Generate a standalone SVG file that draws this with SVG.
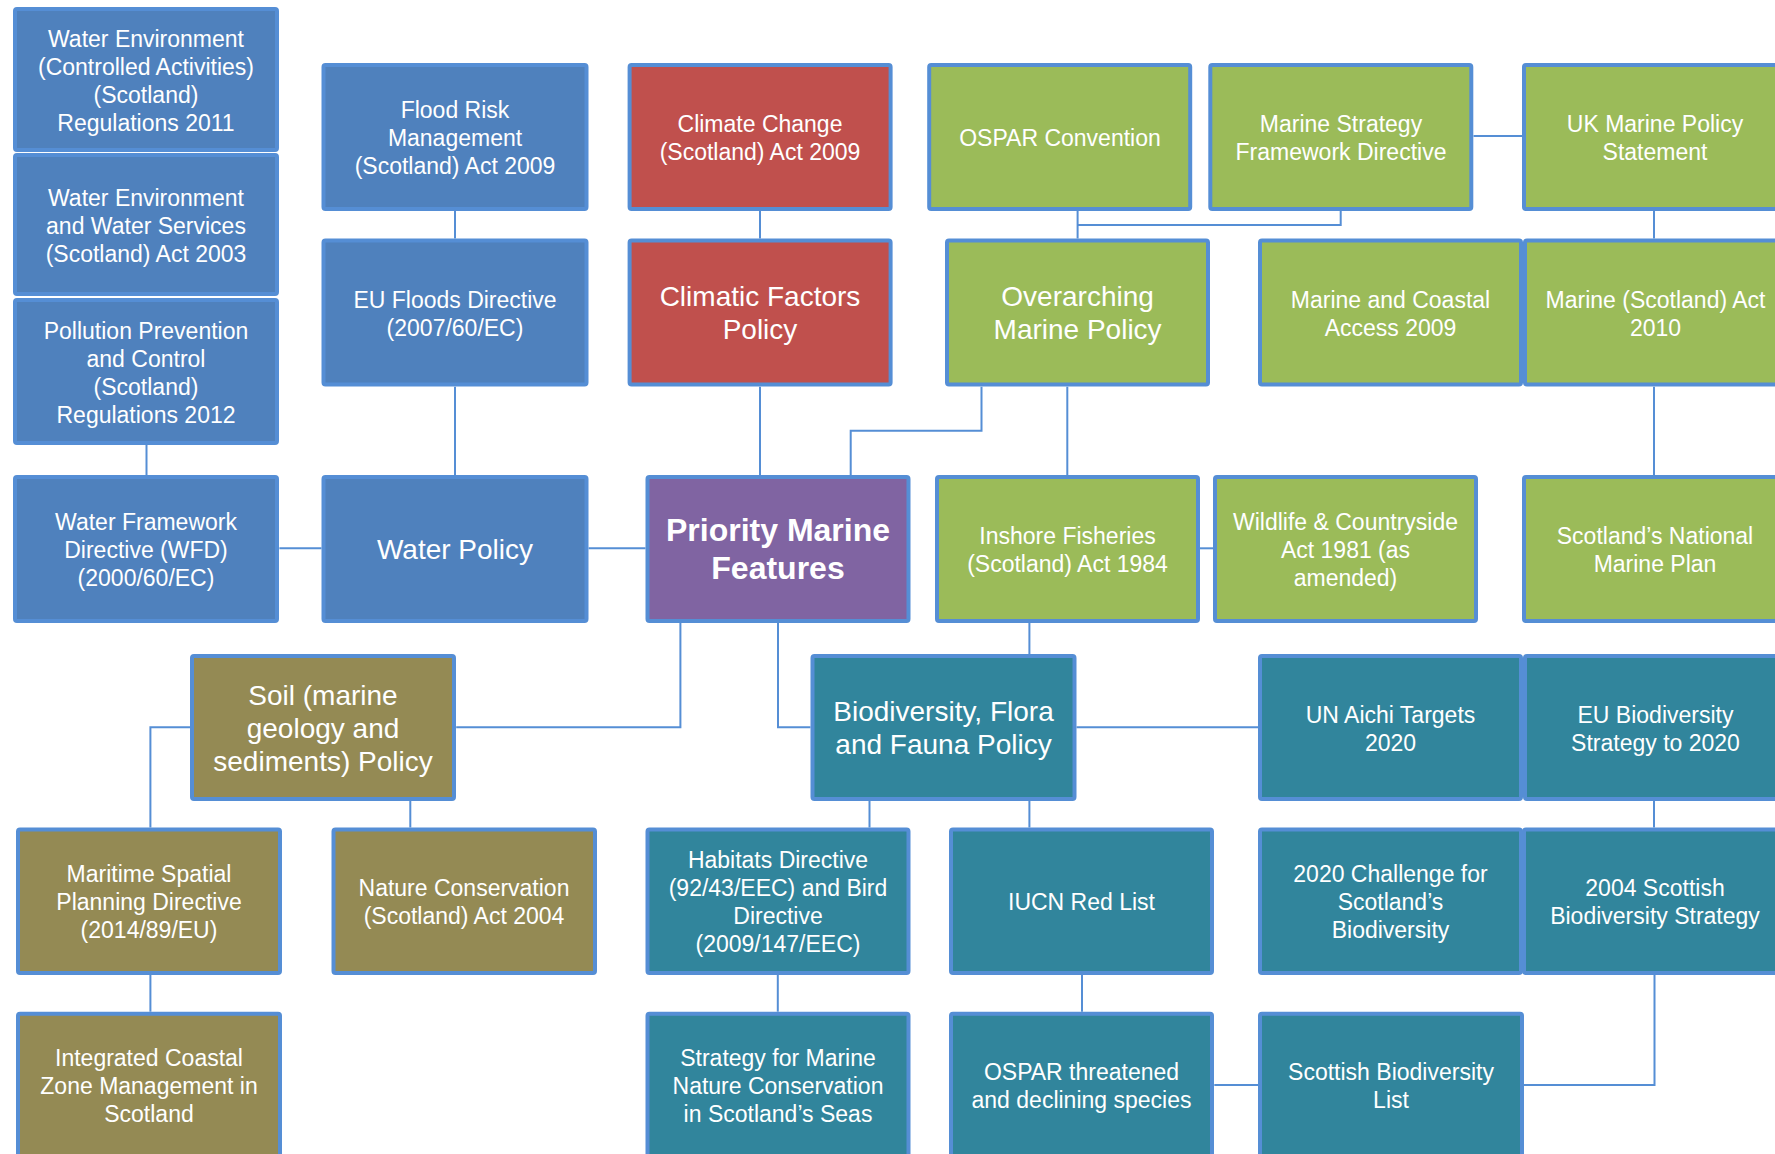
<svg xmlns="http://www.w3.org/2000/svg" width="1775" height="1154" viewBox="0 0 1775 1154">
<style>
.n rect{stroke:#558ED5;stroke-width:4}
.blue rect{fill:#4F81BD}
.red rect{fill:#C0504D}
.green rect{fill:#9BBB59}
.purple rect{fill:#8064A2}
.olive rect{fill:#948A54}
.teal rect{fill:#31859C}
.n text{font-family:"Liberation Sans",Arial,sans-serif;font-size:23px;fill:#FFFFFF;text-anchor:middle}
.n text.l{font-size:28px}
.n text.b{font-size:32px;font-weight:bold}
#connectors{fill:none;stroke:#558ED5;stroke-width:2}
</style>
<rect width="1775" height="1154" fill="#FFFFFF"/>
<g id="connectors">
<path d="M146.5,445V475"/>
<path d="M455,211V238.5"/>
<path d="M455,386.7V475"/>
<path d="M279.4,548.3H321.5"/>
<path d="M588.6,548.3H645.5"/>
<path d="M760,211V238.5"/>
<path d="M760,386.7V475"/>
<path d="M1077.6,211V238.5"/>
<path d="M1340.7,211V225H1077.6"/>
<path d="M1473.5,136H1522"/>
<path d="M1654,211V238.5"/>
<path d="M981.5,386.7V430.7H850.7V475"/>
<path d="M1067.3,386.7V475"/>
<path d="M1654,386.7V475"/>
<path d="M1200,548.3H1213.3"/>
<path d="M680.4,622.7V727.3H456.2"/>
<path d="M778,622.7V727.3H810.5"/>
<path d="M1029.4,622.7V654"/>
<path d="M1076.5,727.3H1258"/>
<path d="M190.2,727.3H150.4V827.5"/>
<path d="M410.3,800.7V827.5"/>
<path d="M869.5,800.7V827.5"/>
<path d="M1029.4,800.7V827.5"/>
<path d="M1654,800.7V827.5"/>
<path d="M150.4,975V1011.7"/>
<path d="M777.8,975V1011.7"/>
<path d="M1082,975V1011.7"/>
<path d="M1214.3,1085H1258"/>
<path d="M1524,1085H1654.5V975"/>
</g>

<g id="we-controlled" class="n blue"><rect x="15" y="9" width="262" height="141" rx="2"/>
<text x="146"><tspan x="146" y="46.5">Water Environment</tspan><tspan x="146" y="74.5">(Controlled Activities)</tspan><tspan x="146" y="102.5">(Scotland)</tspan><tspan x="146" y="130.5">Regulations 2011</tspan></text></g>
<g id="we-services" class="n blue"><rect x="15" y="155" width="262" height="139" rx="2"/>
<text x="146"><tspan x="146" y="205.5">Water Environment</tspan><tspan x="146" y="233.5">and Water Services</tspan><tspan x="146" y="261.5">(Scotland) Act 2003</tspan></text></g>
<g id="ppc" class="n blue"><rect x="15" y="300" width="262" height="143" rx="2"/>
<text x="146"><tspan x="146" y="338.5">Pollution Prevention</tspan><tspan x="146" y="366.5">and Control</tspan><tspan x="146" y="394.5">(Scotland)</tspan><tspan x="146" y="422.5">Regulations 2012</tspan></text></g>
<g id="flood-risk" class="n blue"><rect x="323.5" y="65" width="263" height="144" rx="2"/>
<text x="455"><tspan x="455" y="118">Flood Risk</tspan><tspan x="455" y="146">Management</tspan><tspan x="455" y="174">(Scotland) Act 2009</tspan></text></g>
<g id="eu-floods" class="n blue"><rect x="323.5" y="240.5" width="263" height="144" rx="2"/>
<text x="455"><tspan x="455" y="307.5">EU Floods Directive</tspan><tspan x="455" y="335.5">(2007/60/EC)</tspan></text></g>
<g id="climate-change" class="n red"><rect x="629.6" y="65" width="261" height="144" rx="2"/>
<text x="760"><tspan x="760" y="132">Climate Change</tspan><tspan x="760" y="160">(Scotland) Act 2009</tspan></text></g>
<g id="climatic-factors" class="n red"><rect x="629.6" y="240.5" width="261" height="144" rx="2"/>
<text class="l" x="760"><tspan x="760" y="306">Climatic Factors</tspan><tspan x="760" y="339">Policy</tspan></text></g>
<g id="ospar" class="n green"><rect x="929.2" y="65" width="261" height="144" rx="2"/>
<text x="1060" y="146">OSPAR Convention</text></g>
<g id="msfd" class="n green"><rect x="1210.3" y="65" width="261" height="144" rx="2"/>
<text x="1341"><tspan x="1341" y="132">Marine Strategy</tspan><tspan x="1341" y="160">Framework Directive</tspan></text></g>
<g id="uk-mps" class="n green"><rect x="1524" y="65" width="262" height="144" rx="2"/>
<text x="1655"><tspan x="1655" y="132">UK Marine Policy</tspan><tspan x="1655" y="160">Statement</tspan></text></g>
<g id="overarching" class="n green"><rect x="947" y="240.5" width="261" height="144" rx="2"/>
<text class="l" x="1077.6"><tspan x="1077.6" y="306">Overarching</tspan><tspan x="1077.6" y="339">Marine Policy</tspan></text></g>
<g id="marine-coastal" class="n green"><rect x="1260" y="240.5" width="261" height="144" rx="2"/>
<text x="1390.5"><tspan x="1390.5" y="307.5">Marine and Coastal</tspan><tspan x="1390.5" y="335.5">Access 2009</tspan></text></g>
<g id="marine-scotland-act" class="n green"><rect x="1525" y="240.5" width="261" height="144" rx="2"/>
<text x="1655.5"><tspan x="1655.5" y="307.5">Marine (Scotland) Act</tspan><tspan x="1655.5" y="335.5">2010</tspan></text></g>
<g id="wfd" class="n blue"><rect x="15" y="477" width="262" height="144" rx="2"/>
<text x="146"><tspan x="146" y="530">Water Framework</tspan><tspan x="146" y="558">Directive (WFD)</tspan><tspan x="146" y="586">(2000/60/EC)</tspan></text></g>
<g id="water-policy" class="n blue"><rect x="323.5" y="477" width="263" height="144" rx="2"/>
<text class="l" x="455" y="559">Water Policy</text></g>
<g id="priority" class="n purple"><rect x="647.5" y="477" width="261" height="144" rx="2"/>
<text class="b" x="778"><tspan x="778" y="541">Priority Marine</tspan><tspan x="778" y="579">Features</tspan></text></g>
<g id="inshore" class="n green"><rect x="937" y="477" width="261" height="144" rx="2"/>
<text x="1067.5"><tspan x="1067.5" y="544">Inshore Fisheries</tspan><tspan x="1067.5" y="572">(Scotland) Act 1984</tspan></text></g>
<g id="wildlife" class="n green"><rect x="1215" y="477" width="261" height="144" rx="2"/>
<text x="1345.5"><tspan x="1345.5" y="530">Wildlife &amp; Countryside</tspan><tspan x="1345.5" y="558">Act 1981 (as</tspan><tspan x="1345.5" y="586">amended)</tspan></text></g>
<g id="scotland-nmp" class="n green"><rect x="1524" y="477" width="262" height="144" rx="2"/>
<text x="1655"><tspan x="1655" y="544">Scotland’s National</tspan><tspan x="1655" y="572">Marine Plan</tspan></text></g>
<g id="soil" class="n olive"><rect x="192" y="656" width="262" height="143" rx="2"/>
<text class="l" x="323"><tspan x="323" y="704.5">Soil (marine</tspan><tspan x="323" y="737.5">geology and</tspan><tspan x="323" y="770.5">sediments) Policy</tspan></text></g>
<g id="biodiversity" class="n teal"><rect x="812.5" y="656" width="262" height="143" rx="2"/>
<text class="l" x="943.5"><tspan x="943.5" y="721">Biodiversity, Flora</tspan><tspan x="943.5" y="754">and Fauna Policy</tspan></text></g>
<g id="un-aichi" class="n teal"><rect x="1260" y="656" width="261" height="143" rx="2"/>
<text x="1390.5"><tspan x="1390.5" y="722.5">UN Aichi Targets</tspan><tspan x="1390.5" y="750.5">2020</tspan></text></g>
<g id="eu-biodiversity" class="n teal"><rect x="1525" y="656" width="261" height="143" rx="2"/>
<text x="1655.5"><tspan x="1655.5" y="722.5">EU Biodiversity</tspan><tspan x="1655.5" y="750.5">Strategy to 2020</tspan></text></g>
<g id="maritime-spatial" class="n olive"><rect x="18" y="829.5" width="262" height="143.5" rx="2"/>
<text x="149"><tspan x="149" y="882">Maritime Spatial</tspan><tspan x="149" y="910">Planning Directive</tspan><tspan x="149" y="938">(2014/89/EU)</tspan></text></g>
<g id="nature-conservation" class="n olive"><rect x="333.5" y="829.5" width="261.5" height="143.5" rx="2"/>
<text x="464"><tspan x="464" y="896">Nature Conservation</tspan><tspan x="464" y="924">(Scotland) Act 2004</tspan></text></g>
<g id="habitats" class="n teal"><rect x="647.5" y="829.5" width="261" height="143.5" rx="2"/>
<text x="778"><tspan x="778" y="868">Habitats Directive</tspan><tspan x="778" y="896">(92/43/EEC) and Bird</tspan><tspan x="778" y="924">Directive</tspan><tspan x="778" y="952">(2009/147/EEC)</tspan></text></g>
<g id="iucn" class="n teal"><rect x="951" y="829.5" width="261" height="143.5" rx="2"/>
<text x="1081.5" y="910">IUCN Red List</text></g>
<g id="challenge-2020" class="n teal"><rect x="1260" y="829.5" width="261" height="143.5" rx="2"/>
<text x="1390.5"><tspan x="1390.5" y="882">2020 Challenge for</tspan><tspan x="1390.5" y="910">Scotland’s</tspan><tspan x="1390.5" y="938">Biodiversity</tspan></text></g>
<g id="sbs-2004" class="n teal"><rect x="1524" y="829.5" width="262" height="143.5" rx="2"/>
<text x="1655"><tspan x="1655" y="896">2004 Scottish</tspan><tspan x="1655" y="924">Biodiversity Strategy</tspan></text></g>
<g id="iczm" class="n olive"><rect x="18" y="1013.7" width="262" height="143" rx="2"/>
<text x="149"><tspan x="149" y="1066">Integrated Coastal</tspan><tspan x="149" y="1094">Zone Management in</tspan><tspan x="149" y="1122">Scotland</tspan></text></g>
<g id="strategy-mnc" class="n teal"><rect x="647.5" y="1013.7" width="261" height="143" rx="2"/>
<text x="778"><tspan x="778" y="1066">Strategy for Marine</tspan><tspan x="778" y="1094">Nature Conservation</tspan><tspan x="778" y="1122">in Scotland’s Seas</tspan></text></g>
<g id="ospar-threatened" class="n teal"><rect x="951" y="1013.7" width="261" height="143" rx="2"/>
<text x="1081.5"><tspan x="1081.5" y="1080">OSPAR threatened</tspan><tspan x="1081.5" y="1108">and declining species</tspan></text></g>
<g id="sbl" class="n teal"><rect x="1260" y="1013.7" width="262" height="143" rx="2"/>
<text x="1391"><tspan x="1391" y="1080">Scottish Biodiversity</tspan><tspan x="1391" y="1108">List</tspan></text></g>
</svg>
